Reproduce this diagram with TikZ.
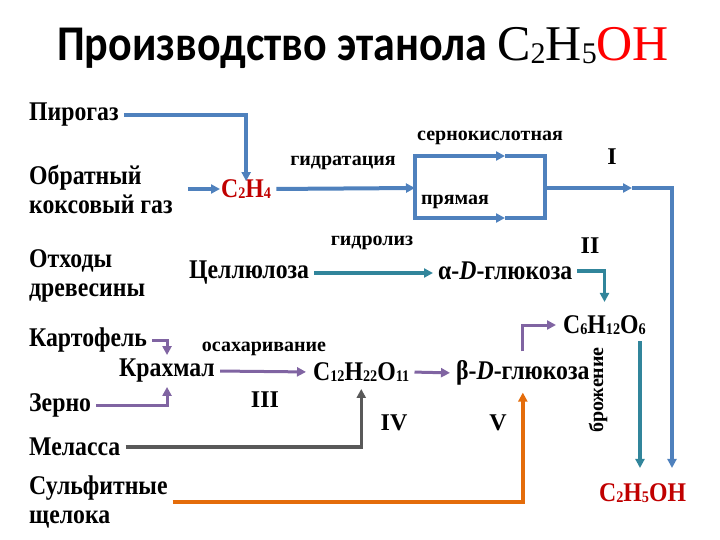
\documentclass[tikz,border=0pt]{standalone}
\usepackage{fontspec}
\setmainfont{Liberation Serif}
\newfontfamily\narrowfont{Liberation Serif}[FakeStretch=0.88]
\newfontfamily\titlefont{Carlito}[FakeStretch=0.88]
\usepackage{xcolor}
\usetikzlibrary{arrows.meta, positioning, calc}

\definecolor{lineblue}{RGB}{79,129,189}
\definecolor{lineteal}{RGB}{49,133,155}
\definecolor{linepurple}{RGB}{128,100,162}
\definecolor{linegray}{RGB}{89,89,89}
\definecolor{lineorange}{RGB}{228,108,10}
\definecolor{formred}{RGB}{192,0,0}

% small index digits of the formulas
\newcommand{\idx}[1]{\raisebox{-0.06em}{\scalebox{0.6}{#1}}}

\tikzset{
  src/.style={anchor=west, align=left, inner sep=1pt, font=\narrowfont\fontsize{27}{29}\selectfont\bfseries},
  sub/.style={anchor=west, inner sep=1pt, font=\narrowfont\fontsize{27}{29}\selectfont\bfseries},
  proc/.style={inner sep=1pt, font=\fontsize{20}{22}\selectfont\bfseries},
  roman/.style={inner sep=1pt, font=\fontsize{24}{26}\selectfont\bfseries},
  flow/.style={line width=#1, -{Triangle[length=9pt,width=9pt]}},
  flow/.default=3.5pt,
}

\begin{document}
\begin{tikzpicture}[x=1pt, y=-1pt]
\useasboundingbox (0,0) rectangle (720,540);

% Title
\node[anchor=base west, inner sep=0pt] (title) at (57,61)
  {\titlefont\fontsize{50}{54}\selectfont\bfseries Производство этанола
   {\rmfamily\mdseries C\idx{2}H\idx{5}\textcolor{red}{OH}}};

% Raw materials
\node[src] (pyro) at (28,115) {Пирогаз};
\node[src] (coke) at (28,189) {Обратный\\коксовый газ};
\node[src] (wood) at (28,276) {Отходы\\древесины};
\node[src] (potato) at (28,340) {Картофель};
\node[src] (grain) at (28,405) {Зерно};
\node[src] (molasses) at (28,447) {Меласса};
\node[src] (sulfite) at (28,502) {Сульфитные\\щелока};

% Intermediates
\node[sub, text=formred] (ethylene) at (220,189) {C\idx{2}H\idx{4}};
\node[sub] (cell) at (188,273) {Целлюлоза};
\node[sub] (aglu) at (437,271) {α-\textit{D}-глюкоза};
\node[sub] (hexose) at (562,325) {C\idx{6}H\idx{12}O\idx{6}};
\node[sub] (starch) at (118,371) {Крахмал};
\node[sub] (sucrose) at (312,372) {C\idx{12}H\idx{22}O\idx{11}};
\node[sub] (bglu) at (455,373) {β-\textit{D}-глюкоза};
\node[sub, text=formred] (ethanol) at (598,493) {C\idx{2}H\idx{5}OH};

% Process names
\node[proc] (hydr) at (343,163) {гидратация};
\node[proc] (sulf) at (490,138) {сернокислотная};
\node[proc] (direct) at (455,202) {прямая};
\node[proc] (hydrol) at (372,243) {гидролиз};
\node[proc] (sacch) at (264,349) {осахаривание};
\node[proc, rotate=90] (ferm) at (598,390) {брожение};

% Route numbers
\foreach \name/\txt/\px/\py in {rI/I/612/157, rII/II/590/246, rIII/III/265/400, rIV/IV/394/423, rV/V/498/423}
  \node[roman] (\name) at (\px,\py) {\txt};

% Ethylene route
\coordinate (split) at (415,188);
\coordinate (join) at (545,188);
\coordinate (topmid) at (505,156);
\coordinate (botmid) at (505,218);
\coordinate (Ihead) at (632,188);
\coordinate (corner) at (672,188);
\draw[flow=4pt, lineblue] (pyro.east) ++(4,0) -| ([yshift=-3pt]ethylene.north);
\draw[flow=4pt, lineblue, shorten <=14pt] (coke.east |- ethylene) -- (ethylene.west);
\draw[flow=4pt, lineblue, shorten <=4pt] (ethylene.east) -- (split);
\draw[flow, lineblue] (split) |- (topmid);
\draw[line width=3.5pt, lineblue] (topmid) -| (join);
\draw[flow, lineblue] (split) |- (botmid);
\draw[line width=3.5pt, lineblue] (botmid) -| (join);
\draw[flow=4pt, lineblue] (join) -- (Ihead);
\draw[flow=4pt, lineblue, shorten >=14pt] (Ihead) -- (corner) -- (corner |- ethanol.north);

% Cellulose route
\draw[flow, lineteal, shorten <=4pt, shorten >=4pt] (cell.east) -- (cell.east -| aglu.west);
\draw[flow, lineteal, shorten <=4pt, shorten >=12pt] (aglu.east) -| (hexose.north);
\draw[flow, lineteal, shorten <=5pt, shorten >=14pt] (hexose.south -| 640,0) -- (640,0 |- ethanol.north);

% Starch route
\draw[flow=3pt, linepurple, shorten <=4pt, shorten >=3pt] (potato.east) -| (starch.north);
\draw[flow=3pt, linepurple, shorten <=4pt, shorten >=3pt] (grain.east) -| (starch.south);
\draw[flow=3pt, linepurple, shorten <=4pt, shorten >=6pt] (starch.east) -- (sucrose.west);
\draw[flow=3pt, linepurple, shorten <=4pt, shorten >=5pt] (sucrose.east) -- (bglu.west);
\draw[flow=3pt, linepurple, shorten <=8pt, shorten >=6pt] (bglu.north) |- (hexose.west);

% Molasses and sulfite liquor
\draw[flow, linegray, shorten <=4pt, shorten >=6pt] (molasses.east) -| (sucrose.south);
\draw[flow, lineorange, shorten <=4pt, shorten >=6pt] (sulfite.east) -| (bglu.south);

\end{tikzpicture}
\end{document}
